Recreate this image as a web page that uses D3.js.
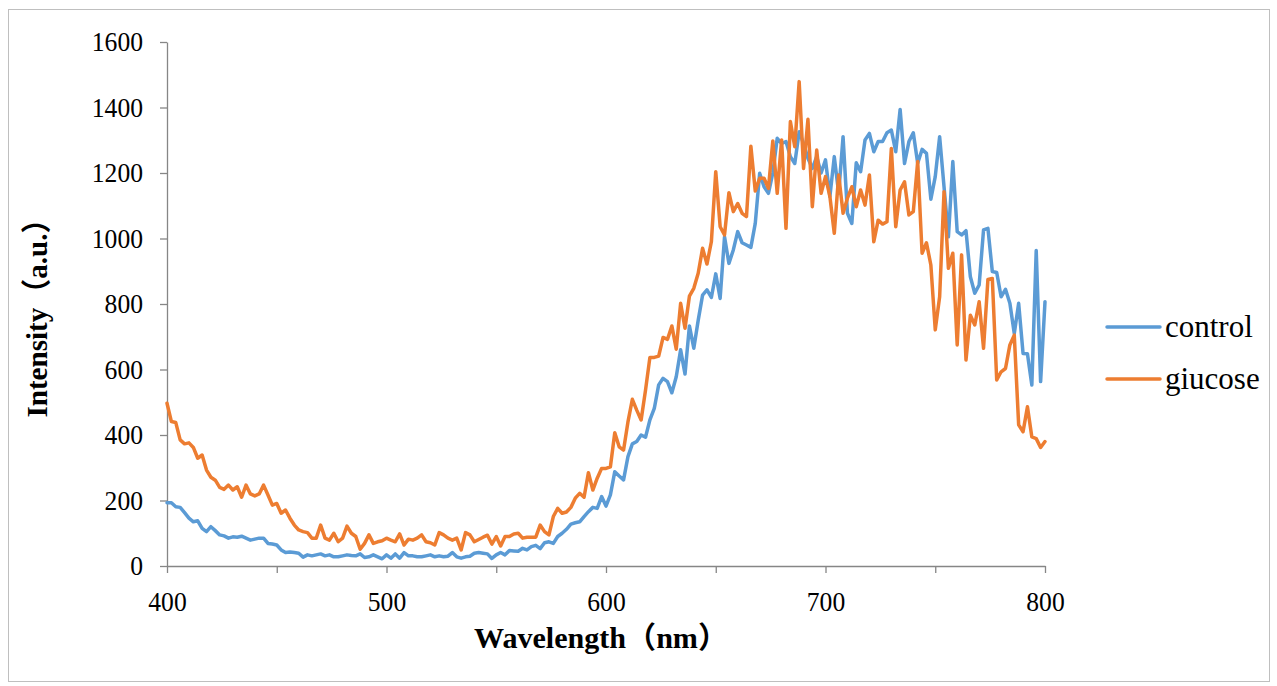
<!DOCTYPE html>
<html>
<head>
<meta charset="utf-8">
<script src="https://cdn.jsdelivr.net/npm/d3@7/dist/d3.min.js"></script>
<style>
  body { margin: 0; background: #fff; }
  svg text { font-family: "Liberation Serif", "Times New Roman", "Noto Sans CJK SC", serif; fill: #000; }
</style>
</head>
<body>
<svg id="chart" width="1277" height="686"></svg>
<script>
// wavelength grid, nm
let wavelengths = d3.range(400, 801, 2);

let control = [
  193,193,181,179,163,146,135,138,115,105,
  120,108,95,92,85,89,88,91,85,79,
  82,85,85,69,67,64,49,41,43,41,
  39,27,34,31,34,37,31,34,28,28,
  31,34,32,31,37,26,28,34,28,22,
  34,24,37,24,41,31,31,28,28,31,
  34,28,31,28,30,41,28,24,28,30,
  39,41,39,37,23,34,41,34,47,46,
  45,54,49,59,63,53,71,74,69,90,
  100,112,128,132,135,151,166,179,176,212,
  183,217,288,275,263,334,373,380,400,393,
  446,481,553,573,563,529,578,660,586,733,
  665,750,827,843,820,892,817,1005,924,965,
  1021,987,980,973,1046,1199,1158,1138,1200,1306,
  1290,1296,1250,1229,1326,1290,1245,1214,1250,1200,
  1240,1128,1250,1138,1311,1077,1046,1231,1204,1301,
  1321,1265,1296,1296,1323,1331,1265,1394,1229,1296,
  1323,1230,1272,1260,1120,1189,1311,1158,1005,1235,
  1021,1011,1024,883,833,858,1026,1031,899,896,
  822,845,802,710,802,649,648,553,963,563,
  807
];

let giucose = [
  497,441,438,385,373,376,362,329,339,293,
  271,262,240,234,247,232,242,210,247,220,
  214,220,247,217,186,191,161,171,146,125,
  110,105,102,85,85,125,85,79,100,74,
  85,122,100,90,51,69,95,69,74,77,
  85,79,74,98,64,82,79,85,95,74,
  71,64,102,95,85,79,85,49,102,95,
  74,81,88,94,67,90,61,90,90,98,
  100,85,88,88,88,125,105,95,151,176,
  161,165,179,207,222,210,285,232,268,298,
  298,303,407,364,354,440,509,476,446,537,
  637,637,641,698,692,733,662,802,726,824,
  848,894,970,922,990,1204,1036,1011,1140,1082,
  1107,1077,1067,1282,1145,1184,1184,1153,1298,1138,
  1301,1031,1357,1280,1479,1214,1364,1097,1270,1138,
  1189,1128,1016,1194,1077,1123,1158,1097,1148,1102,
  1194,990,1056,1044,1051,1275,1036,1148,1173,1072,
  1082,1235,955,987,919,721,822,1143,909,955,
  675,950,629,766,736,807,665,875,878,568,
  593,603,675,705,431,410,486,394,389,362,
  380
];

let seriesNames = ["control", "giucose"];
let seriesColors = ["#5B9BD5", "#ED7D31"];
let xTicks = [400, 450, 500, 550, 600, 650, 700, 750, 800];
let yTicks = [0, 200, 400, 600, 800, 1000, 1200, 1400, 1600];

let svg = d3.select('#chart');
let pad = {t: 42, r: 232, b: 120, l: 167};
let width = 1277, height = 686;
let chartW = width - pad.l - pad.r;
let chartH = height - pad.t - pad.b;

// outer chart border
svg.append('rect')
    .attr('x', 8.5).attr('y', 9.5)
    .attr('width', 1261).attr('height', 672)
    .attr('fill', 'none')
    .attr('stroke', '#bfbfbf')
    .attr('stroke-width', 1);

let xScale = d3.scaleLinear().domain([400, 800]).range([0, chartW]);
let yScale = d3.scaleLinear().domain([0, 1600]).range([chartH, 0]);

let g = svg.append('g').attr('transform', `translate(${pad.l},${pad.t})`);

// axes
let xAxis = d3.axisBottom(xScale)
    .tickValues(xTicks)
    .tickFormat(d => d % 100 === 0 ? String(d) : '')
    .tickSize(7).tickSizeOuter(0).tickPadding(18);
let yAxis = d3.axisLeft(yScale)
    .tickValues(yTicks)
    .tickFormat(d => String(d))
    .tickSize(7).tickSizeOuter(0).tickPadding(17);

let gx = g.append('g').attr('class', 'x axis')
    .attr('transform', `translate(0,${chartH})`)
    .call(xAxis);
let gy = g.append('g').attr('class', 'y axis').call(yAxis);

[gx, gy].forEach(a => {
    a.attr('font-family', null).attr('font-size', null);
    a.select('.domain').attr('stroke', '#868686').attr('stroke-width', 1.3);
    a.selectAll('.tick line').attr('stroke', '#868686').attr('stroke-width', 1.3);
    a.selectAll('.tick text')
        .attr('font-family', 'Liberation Serif')
        .style('font-family', '"Liberation Serif", serif')
        .style('font-size', '28px')
        .attr('textLength', function() { return this.textContent.length * 12.8; })
        .attr('lengthAdjust', 'spacingAndGlyphs');
});

// lines
let lineFun = d3.line()
    .x((d, i) => xScale(wavelengths[i]))
    .y(d => yScale(d));

[control, giucose].forEach((s, i) => {
    g.append('path')
        .datum(s)
        .attr('fill', 'none')
        .attr('stroke', seriesColors[i])
        .attr('stroke-width', 3.5)
        .attr('stroke-linejoin', 'round')
        .attr('stroke-linecap', 'round')
        .attr('d', lineFun);
});

// axis titles
svg.append('text')
    .attr('transform', 'translate(47,311) rotate(-90)')
    .attr('text-anchor', 'middle')
    .attr('textLength', 213)
    .attr('lengthAdjust', 'spacingAndGlyphs')
    .style('font-size', '30px')
    .style('font-weight', 'bold')
    .text('Intensity（a.u.）');

svg.append('text')
    .attr('x', 601).attr('y', 648)
    .attr('text-anchor', 'middle')
    .attr('textLength', 254)
    .attr('lengthAdjust', 'spacingAndGlyphs')
    .style('font-size', '30px')
    .style('font-weight', 'bold')
    .text('Wavelength（nm）');

// legend
let legend = svg.append('g').attr('class', 'legend')
    .attr('transform', 'translate(1107, 327)');
seriesNames.forEach((name, i) => {
    let item = legend.append('g').attr('transform', `translate(0, ${i * 52})`);
    item.append('line')
        .attr('x1', 0).attr('x2', 53)
        .attr('y1', 0).attr('y2', 0)
        .attr('stroke', seriesColors[i])
        .attr('stroke-width', 3.5)
        .attr('stroke-linecap', 'round');
    item.append('text')
        .attr('x', 58).attr('y', 10)
        .style('font-size', '31px')
        .text(name);
});
</script>
</body>
</html>
